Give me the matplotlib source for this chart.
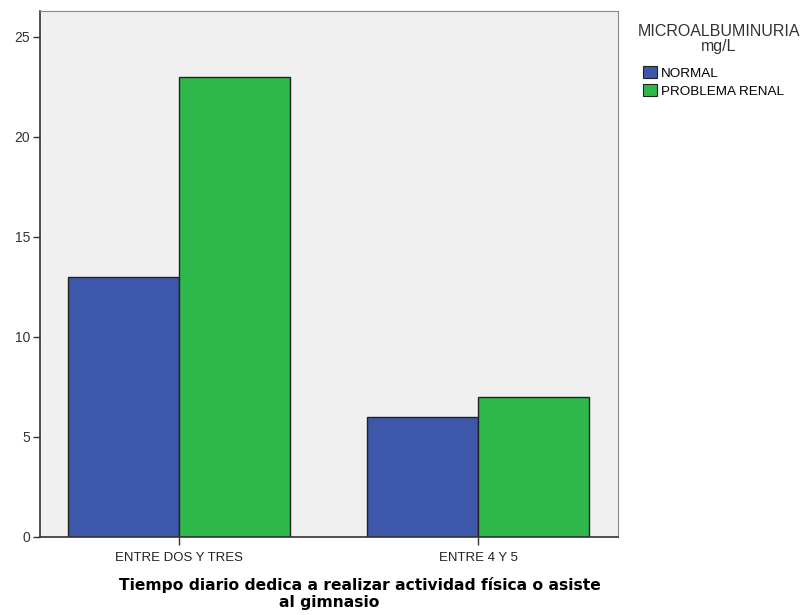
import numpy as np
import matplotlib
matplotlib.use("Agg")
import matplotlib.pyplot as plt
from matplotlib.patches import Patch

# datos
categorias = ["ENTRE DOS Y TRES", "ENTRE 4 Y 5"]
normal = [13, 6]
problema_renal = [23, 7]
series = ["NORMAL", "PROBLEMA RENAL"]
colores = ["#3D57AB", "#2FB84A"]
yticks = [0, 5, 10, 15, 20, 25]

plt.rcParams["font.family"] = ["Liberation Sans", "DejaVu Sans"]

W, H = 812, 615
fig = plt.figure(figsize=(W / 100, H / 100), dpi=100)
ax = fig.add_axes([40 / W, 78 / H, 578 / W, 526 / H])
ax.set_facecolor("#F0F0F0")

x = np.arange(len(categorias))
ancho = 0.371
ax.bar(x - ancho / 2, normal, width=ancho, color=colores[0], edgecolor="#222222", linewidth=1)
ax.bar(x + ancho / 2, problema_renal, width=ancho, color=colores[1], edgecolor="#222222", linewidth=1)

ax.set_xlim(-0.465, 1.468)
ax.set_ylim(0, 26.3)
ax.set_yticks(yticks)
ax.set_yticklabels([str(v) for v in yticks], fontsize=10, color="#333333")
ax.set_xticks(x)
ax.set_xticklabels(categorias, fontsize=9.5, color="#222222")
ax.tick_params(axis="y", length=5, width=1, color="#333333", pad=2)
ax.tick_params(axis="x", length=6, width=1, color="#333333", pad=5)

for lado in ["left", "bottom"]:
    ax.spines[lado].set_color("#333333")
    ax.spines[lado].set_linewidth(1.2)
for lado in ["top", "right"]:
    ax.spines[lado].set_color("#888888")
    ax.spines[lado].set_linewidth(0.8)

# título del eje x (dos líneas, como en SPSS)
fig.text(360 / W, 1 - 585 / H, "Tiempo diario dedica a realizar actividad física o asiste",
         ha="center", va="center", fontsize=11.2, fontweight="bold", family="DejaVu Sans")
fig.text(329 / W, 1 - 603 / H, "al gimnasio",
         ha="center", va="center", fontsize=11.2, fontweight="bold", family="DejaVu Sans")

# leyenda
fig.text(719 / W, 1 - 31 / H, "MICROALBUMINURIA", ha="center", va="center",
         fontsize=11.5, color="#333333")
fig.text(719 / W, 1 - 47 / H, "mg/L", ha="center", va="center",
         fontsize=11.5, color="#333333")
handles = [Patch(facecolor=c, edgecolor="#222222", linewidth=0.8) for c in colores]
leg = fig.legend(handles, series, loc="upper left", bbox_to_anchor=(643 / W, 1 - 66 / H),
                 frameon=False, fontsize=9.7, handlelength=1.05, handleheight=1.0,
                 handletextpad=0.25, labelspacing=0.35, borderpad=0, borderaxespad=0)

fig.savefig("out.png", dpi=100)
